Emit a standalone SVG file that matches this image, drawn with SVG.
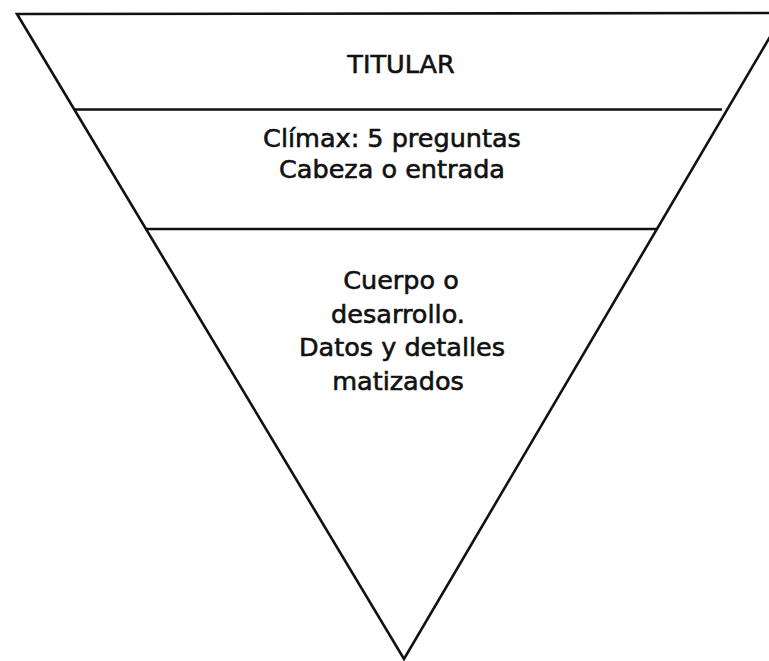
<svg xmlns="http://www.w3.org/2000/svg" width="769" height="661" viewBox="0 0 769 661">
<style>
.ln{fill:none;stroke:#111;stroke-width:2.6;stroke-linejoin:miter}
.hl{stroke:#111;stroke-width:2.4}
.t{font-family:"DejaVu Sans","Liberation Sans",sans-serif;font-size:25.5px;fill:#111;stroke:#111;stroke-width:0.6;text-anchor:middle}
</style>
<rect width="769" height="661" fill="#fff"/>
<g id="funnel">
<polyline class="ln" points="784,13 17,14 404,659 784,13"/>
</g>
<g id="connectors">
<line class="hl" x1="75" y1="109.5" x2="722" y2="109.5"/>
<line class="hl" x1="146" y1="229" x2="657" y2="229"/>
</g>
<g id="titular">
<text class="t" x="401" y="73">TITULAR</text>
</g>
<g id="cabeza">
<text class="t" x="392" y="147">Clímax: 5 preguntas</text>
<text class="t" x="392" y="178">Cabeza o entrada</text>
</g>
<g id="cuerpo">
<text class="t" x="401" y="289">Cuerpo o</text>
<text class="t" x="398" y="322.5">desarrollo.</text>
<text class="t" x="402" y="356">Datos y detalles</text>
<text class="t" x="398" y="389.5">matizados</text>
</g>
</svg>
